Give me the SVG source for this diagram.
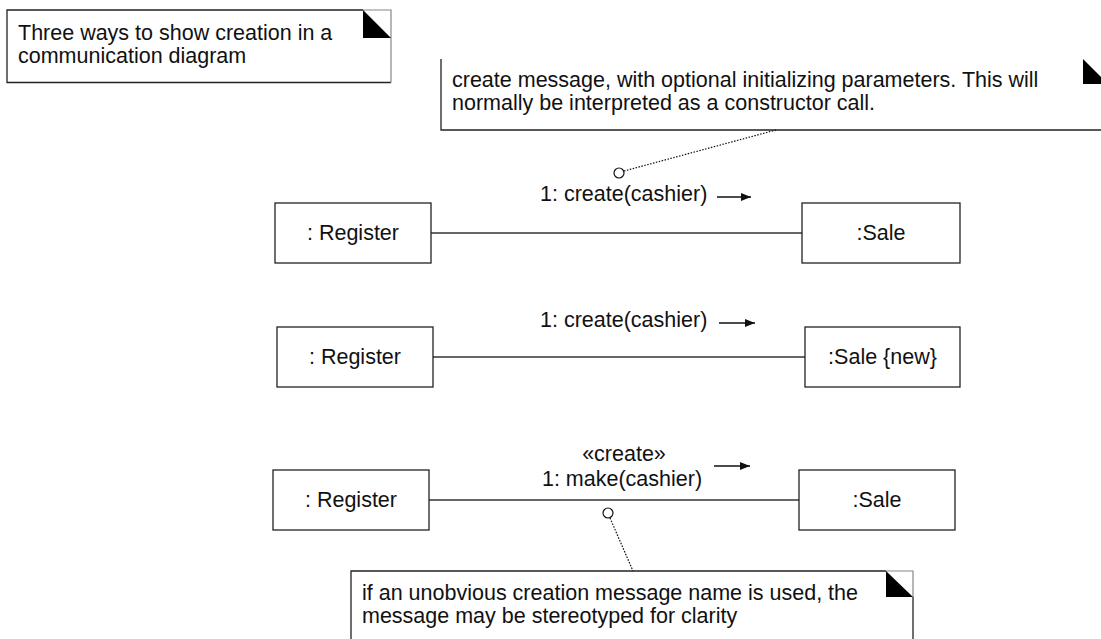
<svg xmlns="http://www.w3.org/2000/svg" width="1101" height="639" viewBox="0 0 1101 639">
  <style>
    text { font-family: "Liberation Sans", Arial, sans-serif; font-size: 21.5px; fill: #111; }
    .mid { text-anchor: middle; }
    .box { fill: #fff; stroke: #222; stroke-width: 1.3; }
    .note { fill: #fff; stroke: #222; stroke-width: 1.3; }
    .edge { fill: none; stroke: #888; stroke-width: 1.2; }
    .fold { fill: #000; stroke: none; }
    .link { fill: none; stroke: #333; stroke-width: 1.4; }
    .msg { fill: none; stroke: #111; stroke-width: 1.4; }
    .anchor { fill: none; stroke: #111; stroke-width: 1.2; stroke-dasharray: 1.5 1.5; }
    .dot { fill: #fff; stroke: #111; stroke-width: 1.2; }
  </style>
  <defs>
    <marker id="msgArrow" viewBox="0 0 10 8" refX="10" refY="4" markerWidth="10" markerHeight="8" markerUnits="userSpaceOnUse" orient="auto">
      <path d="M0,0 L10,4 L0,8 Z" fill="#111"/>
    </marker>
  </defs>

  <rect width="1101" height="639" fill="#fff"/>

  <!-- title note -->
  <g id="note-title">
    <path class="note" d="M363,10 H7 V82.5 H391"/>
    <path class="edge" d="M363,10 H391 V82.5"/>
    <path class="fold" d="M363,10 L391,38 H363 Z"/>
    <text x="18" y="40">Three ways to show creation in a</text>
    <text x="18" y="63">communication diagram</text>
  </g>

  <!-- note on the create message -->
  <g id="note-create">
    <path class="note" d="M441,59 V130 H1101"/>
    <path class="fold" d="M1083,59 L1108,84 H1083 Z"/>
    <text x="452" y="87">create message, with optional initializing parameters. This will</text>
    <text x="452" y="110">normally be interpreted as a constructor call.</text>
  </g>

  <!-- note on the stereotyped message -->
  <g id="note-stereotype">
    <path class="note" d="M886,571 H351 V645"/>
    <path class="edge" d="M886,571 H913 V597"/>
    <path class="note" d="M913,597 V645" fill="none"/>
    <path class="fold" d="M886,571 L913,597 H886 Z"/>
    <text x="362" y="600">if an unobvious creation message name is used, the</text>
    <text x="362" y="623">message may be stereotyped for clarity</text>
  </g>

  <!-- links, messages and note anchors -->
  <g id="connectors">
    <line class="link" x1="431" y1="233" x2="802" y2="233"/>
    <line class="link" x1="433" y1="357" x2="805" y2="357"/>
    <line class="link" x1="429" y1="500" x2="799" y2="500"/>

    <line class="msg" x1="717" y1="197" x2="751" y2="197" marker-end="url(#msgArrow)"/>
    <line class="msg" x1="719" y1="323" x2="755" y2="323" marker-end="url(#msgArrow)"/>
    <line class="msg" x1="714" y1="466" x2="750" y2="466" marker-end="url(#msgArrow)"/>

    <line class="anchor" x1="624" y1="171" x2="776" y2="130"/>
    <circle class="dot" cx="619" cy="173" r="5"/>
    <line class="anchor" x1="610" y1="518" x2="633" y2="571"/>
    <circle class="dot" cx="608" cy="513" r="5"/>
  </g>

  <g id="msg-labels">
    <text x="540" y="201">1: create(cashier)</text>
    <text x="540" y="327">1: create(cashier)</text>
    <text class="mid" x="624" y="461">«create»</text>
    <text class="mid" x="622" y="486">1: make(cashier)</text>
  </g>

  <!-- first variant -->
  <g id="register-1">
    <rect class="box" x="275" y="203" width="156" height="60"/>
    <text class="mid" x="353" y="240">: Register</text>
  </g>
  <g id="sale-1">
    <rect class="box" x="802" y="203" width="158" height="60"/>
    <text class="mid" x="881" y="240">:Sale</text>
  </g>

  <!-- second variant -->
  <g id="register-2">
    <rect class="box" x="277" y="327" width="156" height="60"/>
    <text class="mid" x="355" y="364">: Register</text>
  </g>
  <g id="sale-2">
    <rect class="box" x="805" y="327" width="155" height="60"/>
    <text class="mid" x="882.5" y="364">:Sale {new}</text>
  </g>

  <!-- third variant -->
  <g id="register-3">
    <rect class="box" x="273" y="470" width="156" height="60"/>
    <text class="mid" x="351" y="507">: Register</text>
  </g>
  <g id="sale-3">
    <rect class="box" x="799" y="470" width="156" height="60"/>
    <text class="mid" x="877" y="507">:Sale</text>
  </g>
</svg>
